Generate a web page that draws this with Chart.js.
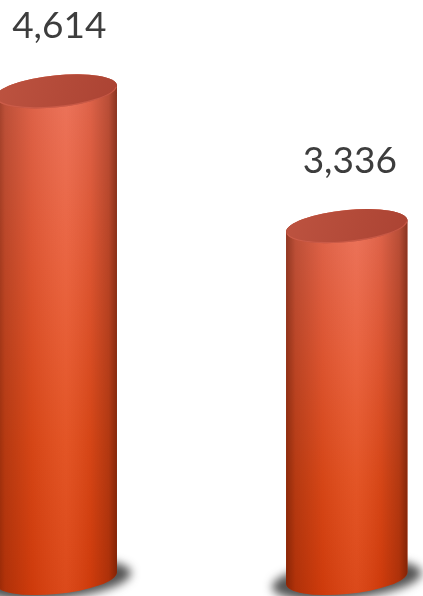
<!DOCTYPE html>
<html>
<head>
<meta charset="utf-8">
<style>
  html, body { margin: 0; padding: 0; background: #ffffff; overflow: hidden; }
  body { width: 423px; height: 596px; position: relative; }
  #wrap { position: absolute; left: -89px; top: 0; width: 581px; height: 596px; }
</style>
<script src="https://cdn.jsdelivr.net/npm/chart.js@4"></script>
</head>
<body>
<div id="wrap"><canvas id="c" width="581" height="596"></canvas></div>
<script>
// Two categories, one series
const categories = ['A', 'B'];
const values = [4614, 3336];
const valueLabels = ['4,614', '3,336'];

const TILT = -0.1;       // rotation of the elliptical caps (radians)
const CAP_RY = 16;       // vertical radius of caps

function capExtremeAngle(rx, ry, th) {
  return Math.atan2(-ry * Math.sin(th), rx * Math.cos(th));
}

const cylinderPlugin = {
  id: 'cylinders',
  afterDatasetsDraw(chart) {
    const ctx = chart.ctx;
    const meta = chart.getDatasetMeta(0);
    meta.data.forEach((bar, i) => {
      const cx = bar.x;
      const yTop = bar.y;
      const yBot = bar.base;
      const rx = bar.width / 2;
      const ry = CAP_RY;
      const th = TILT;
      const t0 = capExtremeAngle(rx, ry, th);

      ctx.save();
      // soft floor shadow
      ctx.filter = 'blur(5px)';
      ctx.fillStyle = 'rgba(40,40,40,0.8)';
      ctx.beginPath();
      ctx.ellipse(cx, yBot + 2, rx + 14, ry + 3, th, 0, Math.PI * 2);
      ctx.fill();
      ctx.filter = 'none';

      // body outline
      ctx.beginPath();
      ctx.ellipse(cx, yBot, rx, ry, th, t0, t0 + Math.PI, false);
      ctx.ellipse(cx, yTop, rx, ry, th, t0 + Math.PI, t0 + 2 * Math.PI, false);
      ctx.closePath();

      const vg = ctx.createLinearGradient(0, yTop, 0, yBot + ry);
      vg.addColorStop(0, '#ea6a50');
      vg.addColorStop(0.35, '#e85a34');
      vg.addColorStop(0.7, '#e14a18');
      vg.addColorStop(1, '#d93e0c');
      ctx.fillStyle = vg;
      ctx.fill();

      // round shading across the body
      const hg = ctx.createLinearGradient(cx - rx, 0, cx + rx, 0);
      hg.addColorStop(0, 'rgba(70,15,0,0.55)');
      hg.addColorStop(0.08, 'rgba(70,15,0,0.28)');
      hg.addColorStop(0.3, 'rgba(70,15,0,0.08)');
      hg.addColorStop(0.58, 'rgba(255,255,255,0.06)');
      hg.addColorStop(0.78, 'rgba(70,15,0,0.08)');
      hg.addColorStop(0.93, 'rgba(70,15,0,0.3)');
      hg.addColorStop(1, 'rgba(70,15,0,0.6)');
      ctx.fillStyle = hg;
      ctx.fill();

      // top cap
      ctx.beginPath();
      ctx.ellipse(cx, yTop, rx, ry, th, 0, Math.PI * 2);
      const tg = ctx.createLinearGradient(cx - rx, yTop - ry, cx + rx, yTop + ry);
      tg.addColorStop(0, '#bd5340');
      tg.addColorStop(1, '#ab4333');
      ctx.fillStyle = tg;
      ctx.fill();
      ctx.lineWidth = 1.2;
      ctx.strokeStyle = 'rgba(215,100,80,0.6)';
      ctx.beginPath();
      ctx.ellipse(cx, yTop, rx - 0.6, ry - 0.6, th, 0.1, Math.PI - 0.1, false);
      ctx.stroke();

      // value label
      ctx.fillStyle = '#3d3d3d';
      ctx.font = '37px Lato, "Open Sans", sans-serif';
      ctx.textAlign = 'center';
      ctx.textBaseline = 'alphabetic';
      ctx.fillText(valueLabels[i], cx + 3, yTop - 53);
      ctx.restore();
    });
  }
};

new Chart(document.getElementById('c'), {
  type: 'bar',
  data: {
    labels: categories,
    datasets: [{
      data: values,
      backgroundColor: 'rgba(0,0,0,0)',
      borderWidth: 0,
      categoryPercentage: 1,
      barPercentage: 0.42
    }]
  },
  options: {
    responsive: false,
    devicePixelRatio: 1,
    animation: false,
    layout: { padding: { left: 0, right: 0, top: 0, bottom: 18 } },
    plugins: { legend: { display: false }, tooltip: { enabled: false } },
    scales: {
      x: { display: false },
      y: { display: false, min: 0, max: 5480 }
    }
  },
  plugins: [cylinderPlugin]
});
</script>
</body>
</html>
